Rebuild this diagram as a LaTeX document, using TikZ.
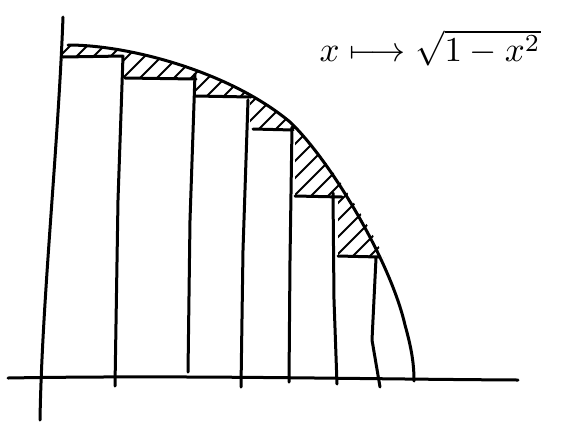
\documentclass[tikz,border=0pt]{standalone}
\usepackage{amsmath}
\usepackage{amssymb}
\newcommand{\sketchWidth}[0]{3pt}

\begin{document}
\begin{tikzpicture}[x=1pt, y=-1pt, line width=\sketchWidth, line cap=round, line join=round]
  \tikzset{hatch/.style={line width=2pt}}
  \useasboundingbox (0,0) rectangle (569,421);
  % axes
  \draw (8,378) .. controls (180,375) and (350,379) .. (518,380);
  \draw (63,17) .. controls (58,150) and (42,300) .. (40,420);
  % quarter circle
  \draw (68,45) .. controls (130,45) and (230,72) .. (290,122)
        .. controls (330,160) and (390,260) .. (405,325)
        .. controls (412,350) and (414,365) .. (414,381);
  % hatching between curve and boxes
  \begin{scope}
    \clip (60,45) .. controls (130,45) and (230,72) .. (290,122)
          .. controls (330,160) and (370,225) .. (384,258)
          -- (338,256) -- (338,196) -- (295,196) -- (295,129) -- (250,129)
          -- (250,96) -- (195,96) -- (195,78) -- (123,78) -- (123,57)
          -- (60,57) -- cycle;
    \foreach \k in {-12,...,24}
      \draw[hatch] (40+17*\k,280) -- ++(250,-250);
  \end{scope}
  % lower sum boxes
  \draw (63,57) -- (123,56) (123,56) -- (118,200) -- (115,386);
  \draw (125,78) -- (196,79) (195,74) -- (190,220) -- (188,372);
  \draw (195,96) -- (251,97) (248,100) -- (243,250) -- (241,387);
  \draw (253,129) -- (293,130) (292,127) -- (290,260) -- (289,382);
  \draw (295,196) -- (342,197) (333,193) -- (334,300) -- (337,384);
  \draw (338,256) -- (379,257) (376,258) -- (372,340) -- (380,387);
  % label
  \node[scale=3.5, inner sep=0pt] (func) at (430,48) {$x \longmapsto \sqrt{1-x^2}$};
\end{tikzpicture}
\end{document}
